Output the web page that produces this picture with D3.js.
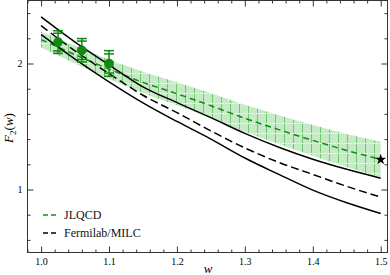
<!DOCTYPE html>
<html>
<head>
<meta charset="utf-8">
<script src="https://cdn.jsdelivr.net/npm/d3@7"></script>
<style>
  body { margin: 0; background: #fff; }
  svg { display: block; }
  .axis path { display: none; }
  .axis line { stroke: #333; }
</style>
</head>
<body>
<svg width="390" height="275"></svg>
<script>
// values
let wGrid = [1.0, 1.05, 1.1, 1.15, 1.2, 1.25, 1.3, 1.35, 1.4, 1.45, 1.5];
let fnalHi  = [2.37, 2.17, 1.99, 1.815, 1.69, 1.57, 1.445, 1.335, 1.24, 1.16, 1.09];
let fnalMid = [2.30, 2.10, 1.92, 1.748, 1.61, 1.465, 1.33, 1.215, 1.12, 1.025, 0.94];
let fnalLo  = [2.23, 2.035, 1.855, 1.688, 1.54, 1.40, 1.25, 1.12, 0.995, 0.895, 0.81];
let jlqcd   = [2.19, 2.07, 1.955, 1.85, 1.76, 1.665, 1.565, 1.475, 1.39, 1.31, 1.238];
let jlqcdHi = [2.253, 2.14, 2.032, 1.935, 1.852, 1.764, 1.672, 1.589, 1.512, 1.441, 1.378];
let jlqcdLo = [2.127, 2.0, 1.878, 1.765, 1.668, 1.566, 1.458, 1.361, 1.268, 1.179, 1.098];

let ptW     = [1.025, 1.06, 1.1];
let ptF     = [2.17, 2.105, 2.0];
let ptErrIn = [0.07, 0.073, 0.076];
let ptErrOut= [0.09, 0.093, 0.102];

let starW = [1.5];
let starF = [1.238];

let xMajor = [1.0, 1.1, 1.2, 1.3, 1.4, 1.5];
let yMajor = [1, 2];
let legendNames = ["JLQCD", "Fermilab/MILC"];

/******************/

let serif = "Liberation Serif";
let svg = d3.select("svg");
let x = d3.scaleLinear().domain([0.98, 1.51]).range([27.5, 387.5]);
let y = d3.scaleLinear().domain([0.5, 2.5]).range([252.5, 0.5]);

let xMinor = d3.range(49, 76).map(i => +(i * 0.02).toFixed(2))
               .filter(v => xMajor.indexOf(v) < 0);
let yMinor = d3.range(3, 13).map(i => +(i * 0.2).toFixed(1))
               .filter(v => yMajor.indexOf(v) < 0);

// hatched band pattern
let defs = svg.append("defs");
let pat = defs.append("pattern")
  .attr("id", "hatch")
  .attr("patternUnits", "userSpaceOnUse")
  .attr("width", 9).attr("height", 10)
  .attr("x", 41).attr("y", 3);
pat.append("rect").attr("width", 9).attr("height", 10).attr("fill", "#c6e9c6");
pat.append("line").attr("x1", 0.5).attr("x2", 0.5).attr("y1", 0).attr("y2", 10)
  .attr("stroke", "#72c672").attr("stroke-width", 1);
pat.append("line").attr("x1", 0).attr("x2", 9).attr("y1", 0.5).attr("y2", 0.5)
  .attr("stroke", "#f4fbf4").attr("stroke-width", 1).attr("stroke-dasharray", "1,1");

let band = d3.area()
  .x((d, i) => x(wGrid[i]))
  .y0((d, i) => y(jlqcdLo[i]))
  .y1((d, i) => y(jlqcdHi[i]))
  .curve(d3.curveMonotoneX);

svg.append("path")
  .datum(wGrid)
  .attr("d", band)
  .attr("fill", "url(#hatch)");

let line = vals => d3.line()
  .x((d, i) => x(wGrid[i]))
  .y((d, i) => y(vals[i]))
  .curve(d3.curveMonotoneX)(wGrid);

svg.append("path").attr("d", line(jlqcd))
  .attr("fill", "none").attr("stroke", "#138a13")
  .attr("stroke-width", 1.5).attr("stroke-dasharray", "6,4");

[fnalHi, fnalLo].forEach(v => {
  svg.append("path").attr("d", line(v))
    .attr("fill", "none").attr("stroke", "#000").attr("stroke-width", 1.5);
});
svg.append("path").attr("d", line(fnalMid))
  .attr("fill", "none").attr("stroke", "#000")
  .attr("stroke-width", 1.5).attr("stroke-dasharray", "8,4");

// data points with error bars
let pts = svg.append("g").attr("stroke", "#118811").attr("fill", "#118811");
ptW.forEach((w, i) => {
  let cx = x(w);
  pts.append("line").attr("x1", cx).attr("x2", cx)
    .attr("y1", y(ptF[i] + ptErrOut[i])).attr("y2", y(ptF[i] - ptErrOut[i]))
    .attr("stroke-width", 1.5);
  [ptErrIn[i], ptErrOut[i], -ptErrIn[i], -ptErrOut[i]].forEach(e => {
    pts.append("line").attr("x1", cx - 5).attr("x2", cx + 5)
      .attr("y1", y(ptF[i] + e)).attr("y2", y(ptF[i] + e))
      .attr("stroke-width", 1.5);
  });
  pts.append("circle").attr("cx", cx).attr("cy", y(ptF[i])).attr("r", 4.8)
    .attr("stroke", "none");
});

svg.selectAll(".star")
  .data(starW)
  .enter().append("path")
  .attr("class", "star")
  .attr("transform", (d, i) => `translate(${x(d)}, ${y(starF[i])})`)
  .attr("d", d3.symbol().type(d3.symbolStar).size(38))
  .attr("fill", "#000");

/**********************/

// axes, ticks pointing inward
let fmt = d3.format(".1f");
function addAxis(gen, vals, size, tr, labels) {
  let a = gen.tickValues(vals).tickSizeInner(size).tickSizeOuter(0).tickPadding(5);
  if (!labels) a.tickFormat("");
  svg.append("g").attr("class", "axis").attr("transform", tr).call(a)
    .attr("font-family", serif).attr("font-size", 10);
}
addAxis(d3.axisBottom(x).tickFormat(fmt), xMajor, -6, `translate(0, 252.5)`, true);
addAxis(d3.axisBottom(x), xMinor, -3, `translate(0, 252.5)`, false);
addAxis(d3.axisTop(x), xMajor, -6, `translate(0, 0.5)`, false);
addAxis(d3.axisTop(x), xMinor, -3, `translate(0, 0.5)`, false);
addAxis(d3.axisLeft(y).tickFormat(d3.format("d")), yMajor, -6, `translate(27.5, 0)`, true);
addAxis(d3.axisLeft(y), yMinor, -3, `translate(27.5, 0)`, false);
addAxis(d3.axisRight(y), yMajor, -6, `translate(387.5, 0)`, false);
addAxis(d3.axisRight(y), yMinor, -3, `translate(387.5, 0)`, false);

svg.append("rect")
  .attr("x", 27.5).attr("y", 0.5).attr("width", 360).attr("height", 252)
  .attr("fill", "none").attr("stroke", "#333");

// axis labels
svg.append("text")
  .attr("x", 208).attr("y", 273)
  .attr("text-anchor", "middle")
  .attr("font-size", 13).attr("font-style", "italic")
  .text("w");

let yl = svg.append("text")
  .attr("transform", "translate(13, 128) rotate(-90)")
  .attr("text-anchor", "middle")
  .attr("font-size", 13);
yl.append("tspan").attr("font-style", "italic").text("F");
yl.append("tspan").attr("dy", 3).attr("font-size", 9).text("2");
yl.append("tspan").attr("dy", -3).text("(");
yl.append("tspan").attr("font-style", "italic").text("w");
yl.append("tspan").text(")");

// legend
let leg = svg.append("g");
legendNames.forEach((name, i) => {
  let ly = 215 + i * 18;
  leg.append("line").attr("x1", 43).attr("x2", 57).attr("y1", ly).attr("y2", ly)
    .attr("stroke", i === 0 ? "#138a13" : "#000").attr("stroke-width", 1.5)
    .attr("stroke-dasharray", "5,3");
  leg.append("text").attr("x", 64).attr("y", ly + 4)
    .attr("font-size", 12).attr("fill", "#111").text(name);
});

svg.selectAll("text").attr("font-family", serif).style("font-family", serif);
</script>
</body>
</html>
